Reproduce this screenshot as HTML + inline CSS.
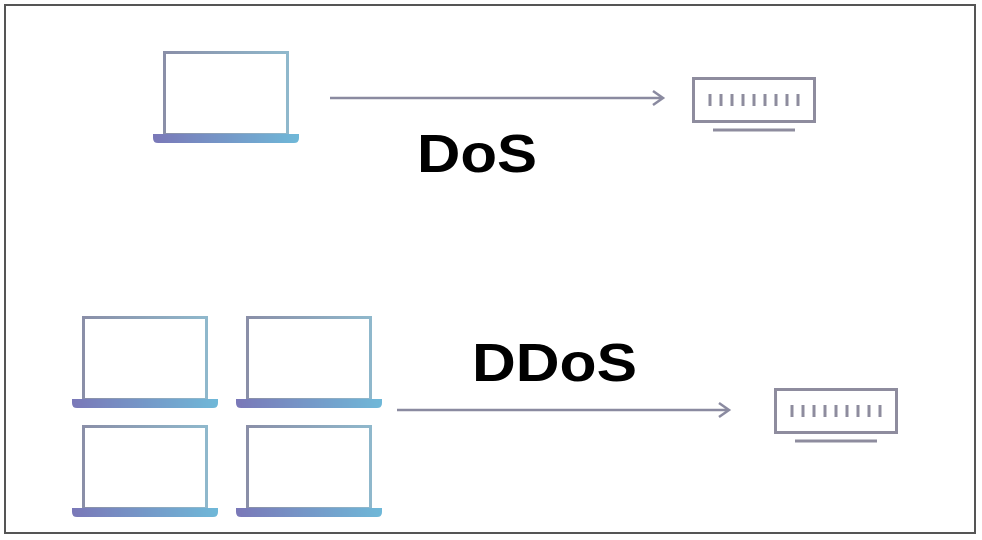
<!DOCTYPE html>
<html><head><style>
html,body{margin:0;padding:0;background:#fff;}
svg{display:block;}
</style></head><body>
<svg width="982" height="540" viewBox="0 0 982 540" xmlns="http://www.w3.org/2000/svg">
<defs>
<linearGradient id="scr" x1="0" x2="1" y1="0" y2="0">
<stop offset="0" stop-color="#8a8fa8"/><stop offset="1" stop-color="#8fb8cc"/></linearGradient>
<linearGradient id="base" x1="0" x2="1" y1="0" y2="0">
<stop offset="0" stop-color="#7a78b8"/><stop offset="1" stop-color="#6fb8d8"/></linearGradient>
<g id="lap">
<rect x="1.5" y="1.5" width="123" height="82" fill="none" stroke="url(#scr)" stroke-width="3"/>
<path d="M-10 83 H136 V87 Q136 92 131 92 H-5 Q-10 92 -10 87 Z" fill="url(#base)"/>
</g>
<g id="srv" fill="none" stroke="#8e8c9e">
<rect x="1.5" y="1.5" width="121" height="43" stroke-width="3"/>
<g stroke-width="3">
<line x1="18" y1="17" x2="18" y2="29"/><line x1="29" y1="17" x2="29" y2="29"/><line x1="40" y1="17" x2="40" y2="29"/>
<line x1="51" y1="17" x2="51" y2="29"/><line x1="62" y1="17" x2="62" y2="29"/><line x1="73" y1="17" x2="73" y2="29"/>
<line x1="84" y1="17" x2="84" y2="29"/><line x1="95" y1="17" x2="95" y2="29"/><line x1="106" y1="17" x2="106" y2="29"/>
</g>
<line x1="21" y1="53" x2="103" y2="53" stroke-width="3"/>
</g>
</defs>
<rect x="5" y="5" width="970" height="528" fill="none" stroke="#555" stroke-width="2"/>
<use href="#lap" x="163" y="51"/>
<line x1="330" y1="98" x2="662" y2="98" stroke="#8a8aa0" stroke-width="2.5"/>
<path d="M653 91 L663 98 L653 105" fill="none" stroke="#8a8aa0" stroke-width="2.5"/>
<use href="#srv" x="692" y="77"/>
<text x="417" y="172" font-family="Liberation Sans, sans-serif" font-weight="bold" font-size="54" fill="#000" textLength="120" lengthAdjust="spacingAndGlyphs">DoS</text>
<use href="#lap" x="82" y="316"/>
<use href="#lap" x="246" y="316"/>
<use href="#lap" x="82" y="425"/>
<use href="#lap" x="246" y="425"/>
<line x1="397" y1="410" x2="728" y2="410" stroke="#8a8aa0" stroke-width="2.5"/>
<path d="M719 403 L729 410 L719 417" fill="none" stroke="#8a8aa0" stroke-width="2.5"/>
<use href="#srv" x="774" y="388"/>
<text x="472" y="381" font-family="Liberation Sans, sans-serif" font-weight="bold" font-size="54" fill="#000" textLength="165" lengthAdjust="spacingAndGlyphs">DDoS</text>
</svg>
</body></html>
